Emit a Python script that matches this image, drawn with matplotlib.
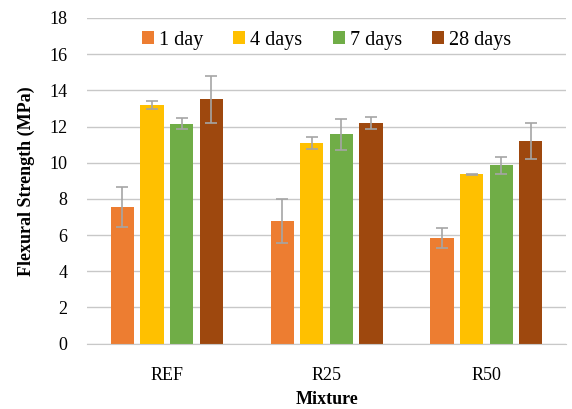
import numpy as np
import matplotlib.pyplot as plt

plt.rcParams['font.family'] = ['Liberation Serif', 'DejaVu Serif']

mixtures = ['REF', 'R25', 'R50']
ages = ['1 day', '4 days', '7 days', '28 days']
colors = ['#ED7D31', '#FFC000', '#70AD47', '#9E480E']

# flexural strength (MPa) per age, for REF, R25, R50
day1 = [7.55, 6.78, 5.83]
day4 = [13.2, 11.1, 9.35]
day7 = [12.15, 11.58, 9.85]
day28 = [13.5, 12.2, 11.2]

err1 = [1.1, 1.22, 0.57]
err4 = [0.22, 0.34, 0.03]
err7 = [0.3, 0.86, 0.49]
err28 = [1.28, 0.33, 1.02]

values = [day1, day4, day7, day28]
errors = [err1, err4, err7, err28]

fig, ax = plt.subplots(figsize=(5.72, 4.09), dpi=100)
fig.subplots_adjust(left=0.152, right=0.99, top=0.956, bottom=0.16)

x = np.arange(len(mixtures))
step = 0.185
width = 0.146
for i, (vals, errs) in enumerate(zip(values, errors)):
    pos = x + (i - 1.5) * step
    ax.bar(pos, vals, width, color=colors[i], label=ages[i], zorder=2)
    ax.errorbar(pos, vals, yerr=errs, fmt='none', ecolor='#A5A5A5',
                elinewidth=1.2, capsize=4, capthick=1.2, zorder=3)

ax.set_ylim(0, 18)
ax.set_yticks(range(0, 19, 2))
ax.set_xlim(-0.5, 2.5)
ax.set_xticks(x)
ax.set_xticklabels(mixtures)
ax.tick_params(axis='both', length=0, labelsize=13)
ax.tick_params(axis='y', pad=14)
ax.tick_params(axis='x', pad=17)
ax.yaxis.grid(True, color='#C8C8C8', linewidth=1, zorder=0)
ax.set_axisbelow(True)
for s in ['top', 'right', 'left']:
    ax.spines[s].set_visible(False)
ax.spines['bottom'].set_color('#C8C8C8')

ax.set_xlabel('Mixture', fontsize=13, fontweight='bold', labelpad=5)
ax.set_ylabel('Flexural Strength (MPa)', fontsize=13, fontweight='bold', labelpad=10)

ax.legend(loc='upper center', bbox_to_anchor=(0.5, 0.985), ncol=4, frameon=False,
          fontsize=14.5, handlelength=0.6, handleheight=0.6, handletextpad=0.25,
          columnspacing=1.5, borderaxespad=0)

fig.savefig('out.png', dpi=100)
